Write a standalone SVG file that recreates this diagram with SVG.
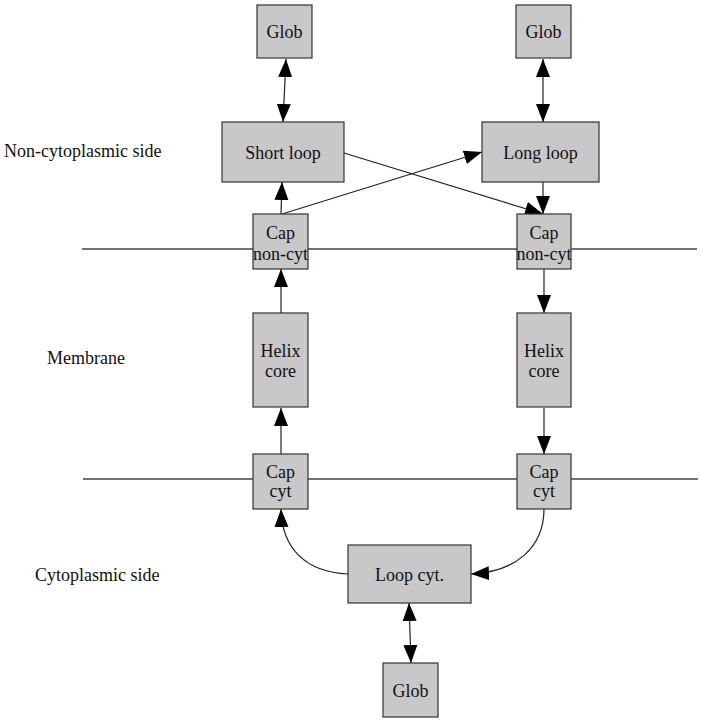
<svg xmlns="http://www.w3.org/2000/svg" width="701" height="720" viewBox="0 0 701 720">
<style>
.box{fill:#c8c8c8;stroke:#333;stroke-width:1.2}
.t{font-family:"Liberation Serif","Times New Roman",serif;font-size:18px;fill:#111;text-anchor:middle}
.lbl{font-family:"Liberation Serif","Times New Roman",serif;font-size:18px;fill:#111}
.e{fill:none;stroke:#222;stroke-width:1.2}
.mem{stroke:#444;stroke-width:1.3}
</style>
<defs>
<marker id="ah" markerUnits="userSpaceOnUse" markerWidth="19" markerHeight="15" refX="18" refY="7" orient="auto-start-reverse" viewBox="0 0 19 14">
<path d="M0,0 L18,7 L0,14 z" fill="#000"/>
</marker>
</defs>
<rect width="701" height="720" fill="#fff"/>
<g id="membrane-lines">
<line class="mem" x1="82" y1="249" x2="697" y2="249"/>
<line class="mem" x1="83" y1="479" x2="698" y2="479"/>
</g>
<g id="labels">
<text class="lbl" x="4" y="157">Non-cytoplasmic side</text>
<text class="lbl" x="47" y="364">Membrane</text>
<text class="lbl" x="35" y="581">Cytoplasmic side</text>
</g>
<g id="connectors">
<line class="e" x1="286" y1="59" x2="283" y2="122" marker-start="url(#ah)" marker-end="url(#ah)"/>
<line class="e" x1="543" y1="59" x2="543" y2="122" marker-start="url(#ah)" marker-end="url(#ah)"/>
<line class="e" x1="281" y1="214" x2="282" y2="182" marker-end="url(#ah)"/>
<line class="e" x1="282" y1="214" x2="482" y2="152" marker-end="url(#ah)"/>
<line class="e" x1="344" y1="153" x2="543" y2="214" marker-end="url(#ah)"/>
<line class="e" x1="543" y1="182" x2="543" y2="214" marker-end="url(#ah)"/>
<line class="e" x1="544" y1="269" x2="544" y2="313" marker-end="url(#ah)"/>
<line class="e" x1="281" y1="313" x2="281" y2="269" marker-end="url(#ah)"/>
<line class="e" x1="281" y1="454" x2="281" y2="408" marker-end="url(#ah)"/>
<line class="e" x1="544" y1="408" x2="544" y2="454" marker-end="url(#ah)"/>
<path class="e" d="M348,574 C305,572 282,548 281,509" marker-end="url(#ah)"/>
<path class="e" d="M544,509 C544,548 515,572 471,574" marker-end="url(#ah)"/>
<line class="e" x1="409" y1="603" x2="411" y2="663" marker-start="url(#ah)" marker-end="url(#ah)"/>
</g>
<g id="glob-left"><rect class="box" x="257" y="5" width="55" height="53"/><text class="t" x="284.5" y="38">Glob</text></g>
<g id="glob-right"><rect class="box" x="516" y="5" width="55" height="53"/><text class="t" x="543.5" y="38">Glob</text></g>
<g id="short-loop"><rect class="box" x="222" y="122" width="122" height="60"/><text class="t" x="283" y="159">Short loop</text></g>
<g id="long-loop"><rect class="box" x="482" y="122" width="117" height="60"/><text class="t" x="540.5" y="159">Long loop</text></g>
<g id="cap-noncyt-left"><rect class="box" x="253" y="214" width="55" height="55"/><text class="t" x="280.5" y="239">Cap</text><text class="t" x="280.5" y="260">non-cyt</text></g>
<g id="cap-noncyt-right"><rect class="box" x="517" y="214" width="54" height="55"/><text class="t" x="544" y="239">Cap</text><text class="t" x="544" y="260">non-cyt</text></g>
<g id="helix-left"><rect class="box" x="253" y="313" width="55" height="94"/><text class="t" x="280.5" y="357">Helix</text><text class="t" x="280.5" y="377">core</text></g>
<g id="helix-right"><rect class="box" x="517" y="313" width="54" height="94"/><text class="t" x="544" y="357">Helix</text><text class="t" x="544" y="377">core</text></g>
<g id="cap-cyt-left"><rect class="box" x="253" y="454" width="55" height="55"/><text class="t" x="280.5" y="478">Cap</text><text class="t" x="280.5" y="497">cyt</text></g>
<g id="cap-cyt-right"><rect class="box" x="517" y="454" width="54" height="55"/><text class="t" x="544" y="478">Cap</text><text class="t" x="544" y="497">cyt</text></g>
<g id="loop-cyt"><rect class="box" x="348" y="545" width="123" height="58"/><text class="t" x="409.5" y="581">Loop cyt.</text></g>
<g id="glob-bottom"><rect class="box" x="383" y="663" width="55" height="54"/><text class="t" x="410.5" y="697">Glob</text></g>
</svg>
